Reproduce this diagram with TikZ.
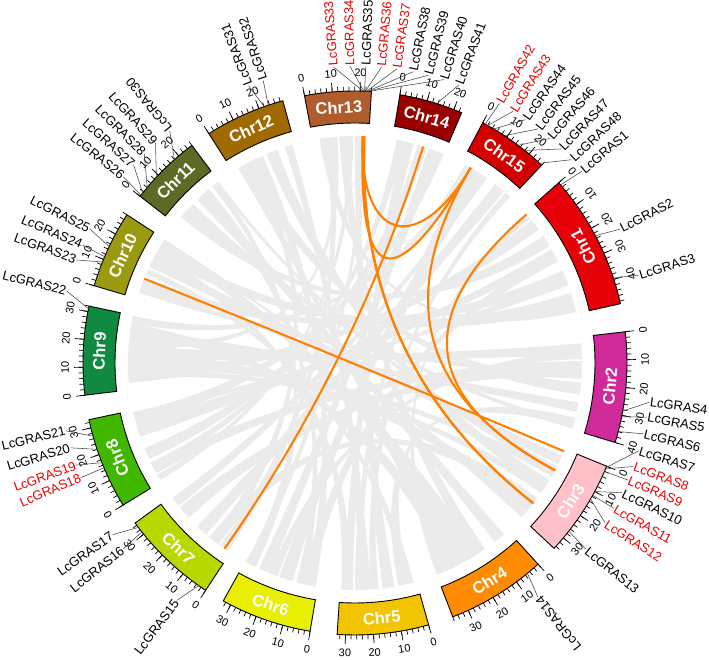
\documentclass[tikz,border=0pt]{standalone}
\usepackage{fontspec}
\setmainfont{Liberation Sans}
% chromosome colours
\definecolor{chrA}{RGB}{230,0,8}
\definecolor{chrB}{RGB}{208,42,154}
\definecolor{chrC}{RGB}{255,192,200}
\definecolor{chrD}{RGB}{255,140,0}
\definecolor{chrE}{RGB}{242,197,0}
\definecolor{chrF}{RGB}{232,239,0}
\definecolor{chrG}{RGB}{184,216,0}
\definecolor{chrH}{RGB}{64,184,0}
\definecolor{chrI}{RGB}{16,138,64}
\definecolor{chrJ}{RGB}{154,154,16}
\definecolor{chrK}{RGB}{90,107,37}
\definecolor{chrL}{RGB}{160,106,0}
\definecolor{chrM}{RGB}{176,92,44}
\definecolor{chrN}{RGB}{153,0,0}
\definecolor{chrO}{RGB}{212,0,0}
\definecolor{synteny}{RGB}{235,235,235}
\definecolor{dupline}{RGB}{255,128,0}
\definecolor{tandem}{RGB}{235,0,0}
\tikzset{
  chrbox/.style={draw=black,line width=0.9pt},
  chrlabel/.style={text=white,font=\fontsize{16.5}{16.5}\selectfont\bfseries,inner sep=0pt},
  tickmark/.style={line width=0.7pt},
  ticklabel/.style={font=\fontsize{11}{11}\selectfont,inner sep=0pt},
  leader/.style={draw=black!72,line width=0.55pt},
  genelabel/.style={font=\fontsize{13}{13}\selectfont,inner sep=0.6pt},
  ribbon/.style={fill=synteny},
  dup/.style={draw=dupline,line width=2.1pt},
}
\begin{document}
\begin{tikzpicture}[x=1pt,y=1pt]
\useasboundingbox (-355,-297) rectangle (354,363);
% synteny blocks (grey)
\foreach \aa/\ab/\ba/\bb in {39/36/-175/-178, 34/31/140/137.5, 29/26.5/-101/-104,
  24/21/161/158, 18/14/152/149, 15/13/99/97, 5/2/-181/-184.5, 0.5/-3/-151/-154,
  -5/-8/120/117, -10/-12.5/-186/-189, -14/-16.5/-76/-79, -24/-26.5/155/152.5,
  -31/-34/113/110, -36.5/-40/-127/-130, -49/-52/134/131, -55/-58/94/91.5,
  -62/-66/-187/-190, -80/-83/90/88, -86/-89/108/106, -90.5/-93/78/75,
  -106/-109.5/58/55, -112/-115/71/68, -131/-134/52/49, -137/-140.5/-1/-4,
  -155/-158/74/71.5, -161/-165/30/27.5, -178/-181/-28/-30, 150/148/-60/-62.5,
  129/127.5/-116/-118.5, 116.5/114/-100/-102.5, 97.5/95.5/-124/-126.5,
  61/59/-190/-192, 48.5/47/-84/-86, 68.5/67/-164/-167.5, -15.5/-16.8/138/135.5,
  40.5/39.5/-67/-68.8, -41/-42.8/147.8/147, -103/-105/132/130,
  -141/-143.5/56/54.5, -149/-150.5/92/90.5, -75/-77/157/155.5, -33/-35/-176/-178,
  22/20/-166/-167.5, -2/-4/162/160.5, 3/1/-110/-112, -27/-29/128/127,
  -64/-67/121/119, -88/-90/60/58, -117/-118.8/88/86.8, -127/-129.5/118/116,
  -184/-186/96/94.5, -152/-154/79.5/77.5, 153/151/-91/-93.5, -57/-60/148.5/147.2,
  -38/-41/-180/-183}
  \fill[ribbon] (\aa:227) arc[start angle=\aa,end angle=\ab,radius=227]
    .. controls (\ab:75) and (\ba:75) .. (\ba:227)
    arc[start angle=\ba,end angle=\bb,radius=227]
    .. controls (\bb:75) and (\aa:75) .. cycle;
% chromosomes with scale
\foreach \nm/\st/\len/\col in {1/41.5/49/chrA, 2/6.6/40/chrB, 3/-22.3/35/chrC,
  4/-47.7/36/chrD, 5/-74.3/33/chrE, 6/-99.5/33/chrF, 7/-123.3/35/chrG,
  8/-148.5/33/chrH, 9/-173.2/32/chrI, 10/163.5/28/chrJ, 11/142.2/26/chrK,
  12/122.5/29/chrL, 13/100.7/24/chrM, 14/80.5/23/chrN, 15/62/26/chrO}{
  \pgfmathsetmacro\en{\st-0.59*\len}
  \pgfmathsetmacro\md{(\st+\en)/2}
  \pgfmathsetmacro\rot{sin(\md-38)>0 ? \md-90 : \md+90}
  \filldraw[chrbox,fill=\col] (\st:240) arc[start angle=\st,end angle=\en,radius=240]
    -- (\en:272) arc[start angle=\en,end angle=\st,radius=272] -- cycle;
  \node[chrlabel,rotate=\rot] (chr\nm) at (\md:256) {Chr\nm};
  \foreach \tk in {0,2,...,\len}
    \draw[tickmark] ({\st-0.59*\tk}:272) -- ({\st-0.59*\tk}:276.5);
  \foreach \tk in {0,10,...,\len}{
    \pgfmathsetmacro\ang{\st-0.59*\tk}
    \pgfmathsetmacro\trot{sin(\ang-38)>0 ? \ang-90 : \ang+90}
    \draw[tickmark] (\ang:272) -- (\ang:281);
    \node[ticklabel,rotate=\trot] (t\nm-\tk) at (\ang:290) {\tk};
  }
}
% GRAS genes: position / label angle / turn / anchor / name / colour
\foreach \g/\l/\off/\anc/\lab/\col in {
  40.9/40.2/0/west/LcGRAS1/black, 27.9/26.8/0/west/LcGRAS2/black,
  18.2/17.2/0/west/LcGRAS3/black, -10.2/-7.6/0/west/LcGRAS4/black,
  -11.4/-10.5/0/west/LcGRAS5/black, -14.6/-13.8/0/west/LcGRAS6/black,
  -22.6/-17.2/0/west/LcGRAS7/black, -22.9/-20.4/0/west/LcGRAS8/tandem,
  -23.5/-23.2/0/west/LcGRAS9/tandem, -28.2/-25.9/0/west/LcGRAS10/black,
  -29.1/-29.3/0/west/LcGRAS11/tandem, -30.0/-32.6/0/west/LcGRAS12/tandem,
  -38.2/-38.9/0/west/LcGRAS13/black, -50.65/-52/180/east/LcGRAS14/black,
  -125.1/-126.9/180/east/LcGRAS15/black, -141.6/-141.3/180/east/LcGRAS16/black,
  -142.8/-144.7/180/east/LcGRAS17/black, -157.35/-157.3/180/east/LcGRAS18/tandem,
  -158.5/-159.9/180/east/LcGRAS19/tandem, -161.5/-163.4/180/east/LcGRAS20/black,
  -164.4/-166.8/180/east/LcGRAS21/black, -191.5/-194/180/east/LcGRAS22/black,
  158.2/159.7/180/east/LcGRAS23/black, 157.0/156.6/180/east/LcGRAS24/black,
  154.65/153.2/180/east/LcGRAS25/black, 141.9/141.2/180/east/LcGRAS26/black,
  141.3/138.2/180/east/LcGRAS27/black, 139.8/135.2/180/east/LcGRAS28/black,
  136.9/132.2/180/east/LcGRAS29/black, 131.6/128.6/0/west/LcGRAS30/black,
  109.5/111/0/west/LcGRAS31/black, 108.6/108/0/west/LcGRAS32/black,
  88.3/94.2/0/west/LcGRAS33/tandem, 88.1/91.0/0/west/LcGRAS34/tandem,
  88.0/87.9/0/west/LcGRAS35/black, 87.8/84.9/0/west/LcGRAS36/tandem,
  87.6/81.9/0/west/LcGRAS37/tandem, 87.4/78.7/0/west/LcGRAS38/black,
  87.2/75.7/0/west/LcGRAS39/black, 87.1/72.6/0/west/LcGRAS40/black,
  72.5/69.5/0/west/LcGRAS41/black, 61.4/60.9/0/west/LcGRAS42/tandem,
  60.8/57.9/0/west/LcGRAS43/tandem, 59.35/55.0/0/west/LcGRAS44/black,
  56.7/52.0/0/west/LcGRAS45/black, 53.15/49.1/0/west/LcGRAS46/black,
  51.4/46.1/0/west/LcGRAS47/black, 47.25/43.2/0/west/LcGRAS48/black}{
  \coordinate (g\lab) at (\g:272);
  \coordinate (k\lab) at (\g:227);
  \node[genelabel,anchor=\anc,rotate=\l+\off,text=\col] (\lab) at (\l:297) {\lab};
  \draw[leader] (g\lab) -- (\lab.\anc);
}
% segmental duplications
\draw[dup] (kLcGRAS23) .. controls (158.2:75) and (-22.9:75) .. (kLcGRAS8);
\draw[dup] (kLcGRAS15) .. controls (-125.1:75) and (72.5:75) .. (kLcGRAS41);
\draw[dup] (kLcGRAS1) .. controls (40.9:75) and (-28.2:75) .. (kLcGRAS10);
\draw[dup] (kLcGRAS44) .. controls (59.35:75) and (-28.2:75) .. (kLcGRAS10);
\draw[dup] (kLcGRAS36) .. controls (87.8:75) and (-38.2:75) .. (kLcGRAS13);
\draw[dup] (kLcGRAS37) .. controls (87.6:75) and (-38.2:75) .. (kLcGRAS13);
\draw[dup] (kLcGRAS34) .. controls (88.1:122) and (59.35:122) .. (kLcGRAS44);
\draw[dup] (kLcGRAS35) .. controls (88.0:75) and (59.35:75) .. (kLcGRAS44);
\end{tikzpicture}
\end{document}
